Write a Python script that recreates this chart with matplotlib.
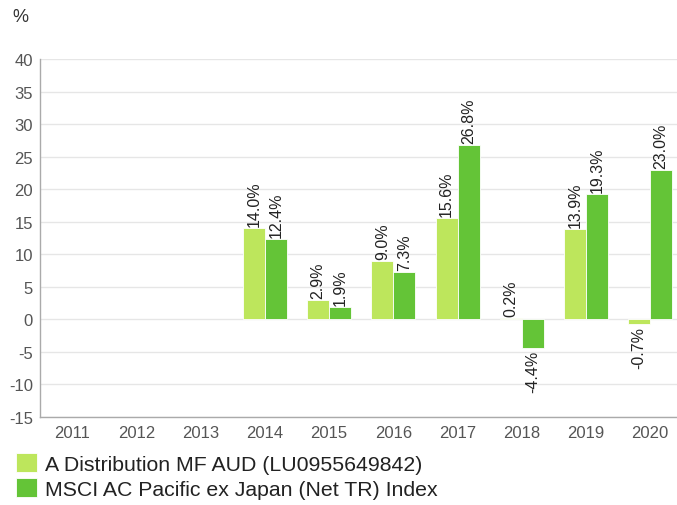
import numpy as np
import matplotlib.pyplot as plt

plt.rcParams['font.family'] = ['Liberation Sans', 'DejaVu Sans']
plt.rcParams['axes.unicode_minus'] = False

# data
years = ['2011', '2012', '2013', '2014', '2015', '2016', '2017', '2018', '2019', '2020']
fund = [np.nan, np.nan, np.nan, 14.0, 2.9, 9.0, 15.6, 0.2, 13.9, -0.7]
index = [np.nan, np.nan, np.nan, 12.4, 1.9, 7.3, 26.8, -4.4, 19.3, 23.0]
series_names = ['A Distribution MF AUD (LU0955649842)',
                'MSCI AC Pacific ex Japan (Net TR) Index']
yticks = list(range(-15, 45, 5))

fund_color = '#bde65c'
index_color = '#64c437'

fig = plt.figure(figsize=(6.77, 5.06), dpi=100)
ax = fig.add_axes([40 / 677, 88 / 506, 637 / 677, 358 / 506])

x = np.arange(len(years))
w = 0.343
bars_f = ax.bar(x - w / 2, fund, width=w, color=fund_color,
                edgecolor='white', linewidth=0.6, zorder=3, label=series_names[0])
bars_i = ax.bar(x + w / 2, index, width=w, color=index_color,
                edgecolor='white', linewidth=0.6, zorder=3, label=series_names[1])


def label_bars(bars, vals):
    for b, v in zip(bars, vals):
        if np.isnan(v):
            continue
        xc = b.get_x() + b.get_width() / 2
        if v >= 0:
            ax.annotate(f"{v:.1f}%", (xc, v), xytext=(0, 1.5), textcoords='offset points',
                        rotation=90, ha='center', va='bottom', fontsize=11.5,
                        color='#222222', zorder=4)
        else:
            ax.annotate(f"{v:.1f}%", (xc, v), xytext=(0, -1.5), textcoords='offset points',
                        rotation=90, ha='center', va='top', fontsize=11.5,
                        color='#222222', zorder=4)


label_bars(bars_f, fund)
label_bars(bars_i, index)

ax.set_xlim(-0.506, 9.42)
ax.set_ylim(-15, 40)
ax.set_xticks(x)
ax.set_xticklabels(years)
ax.set_yticks(yticks)
ax.tick_params(axis='both', length=0, labelsize=12, labelcolor='#555555')
ax.tick_params(axis='x', pad=6)
ax.tick_params(axis='y', pad=5)
ax.grid(axis='y', color='#e6e6e6', linewidth=1, zorder=0)
for side in ['top', 'right']:
    ax.spines[side].set_visible(False)
for side in ['left', 'bottom']:
    ax.spines[side].set_color('#aaaaaa')
    ax.spines[side].set_linewidth(1)

fig.text(12 / 677, 1 - 17 / 506, '%', fontsize=13, color='#333333', va='center', ha='left')

fig.legend(loc='upper left', bbox_to_anchor=(16 / 677, 1 - 454 / 506),
           frameon=False, fontsize=15.3, handlelength=1.0, handleheight=1.0,
           handletextpad=0.35, labelspacing=0.22, borderaxespad=0, borderpad=0,
           labelcolor='#222222')

fig.savefig('out.png', dpi=100)
